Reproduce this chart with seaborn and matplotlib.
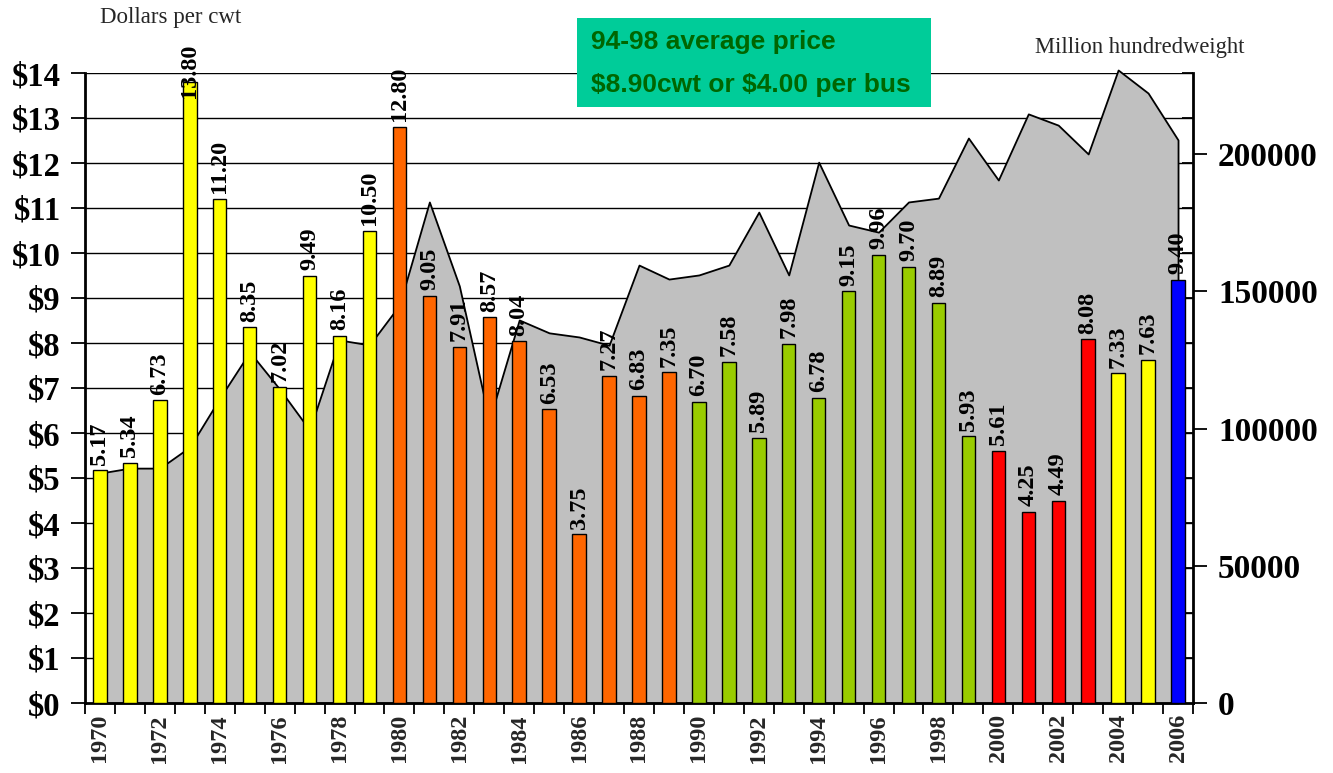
import matplotlib
matplotlib.use('Agg')
import matplotlib.pyplot as plt
from matplotlib.patches import Rectangle
import seaborn as sns
import numpy as np
import pandas as pd

# ---------------- data ----------------
years = list(range(1970, 2007))
prices = [5.17, 5.34, 6.73, 13.80, 11.20, 8.35, 7.02, 9.49, 8.16, 10.50,
          12.80, 9.05, 7.91, 8.57, 8.04, 6.53, 3.75, 7.27, 6.83, 7.35,
          6.70, 7.58, 5.89, 7.98, 6.78, 9.15, 9.96, 9.70, 8.89, 5.93,
          5.61, 4.25, 4.49, 8.08, 7.33, 7.63, 9.40]
production = [83800, 85600, 85600, 93300, 111100, 127900, 114400, 99500, 132300, 130500,
              145000, 182600, 152000, 103000, 139600, 134900, 133400, 130400, 159600, 154500,
              156000, 159600, 178900, 156000, 197100, 174200, 171600, 182600, 184000, 205900,
              190600, 214700, 210600, 200100, 230700, 222300, 205200]
bar_colors = (['#FFFF00'] * 10 + ['#FF6600'] * 10 + ['#99CC00'] * 10 +
              ['#FF0000'] * 4 + ['#FFFF00'] * 2 + ['#0000FF'])
dollar_ticks = list(range(0, 15))
dollar_labels = ['\\$%d' % v for v in dollar_ticks]
prod_ticks = [0, 50000, 100000, 150000, 200000]
left_title = 'Dollars per cwt'
right_title = 'Million hundredweight'
box_lines = ['94-98 average price', '\\$8.90cwt or \\$4.00 per bus']

# ---------------- style ----------------
sns.set_theme(style='white')
plt.rcParams['font.family'] = ['Liberation Serif', 'DejaVu Serif']

W, H = 1333, 773
fig = plt.figure(figsize=(W / 100, H / 100), dpi=100)
fig.patch.set_facecolor('white')
ax = fig.add_axes([85 / W, (H - 703) / H, (1193 - 85) / W, (703 - 73) / H])
ax2 = ax.twinx()
ax.set_zorder(2)
ax.patch.set_visible(False)
ax2.set_zorder(1)
ax2.patch.set_visible(True)
ax2.patch.set_facecolor('white')

ymax1 = 14
ymax2 = 229600

# area (secondary axis)
x = np.arange(len(years))
ax2.fill_between(x, production, 0, facecolor='#C0C0C0', edgecolor='black',
                 linewidth=1.3, zorder=2, clip_on=False)
ax2.set_ylim(0, ymax2)
ax2.set_yticks(prod_ticks)
ax2.set_yticklabels([str(v) for v in prod_ticks], fontsize=24, fontweight='bold')
ax2.set_yticks([v * ymax2 / ymax1 for v in dollar_ticks], minor=True)
ax2.tick_params(axis='y', which='major', direction='out', length=10, width=1.3,
                pad=8, colors='black', right=True)
ax2.tick_params(axis='y', which='minor', direction='in', length=8, width=1.3,
                colors='black', right=True)
ax2.grid(which='minor', axis='y', color='black', linewidth=1.0)
ax2.grid(which='major', visible=False)
ax2.set_axisbelow(True)
for s in ['left', 'top', 'bottom']:
    ax2.spines[s].set_visible(False)
ax2.spines['right'].set_linewidth(2)
ax2.spines['right'].set_color('black')

# bars (primary axis)
df = pd.DataFrame({'year': [str(y) for y in years], 'price': prices})
sns.barplot(data=df, x='year', y='price', hue='year', palette=bar_colors,
            legend=False, width=0.45, saturation=1, edgecolor='black',
            linewidth=1.0, ax=ax, zorder=3)
for cont in ax.containers:
    anns = ax.bar_label(cont, fmt='%.2f', rotation=90, padding=4, fontsize=17.5,
                        fontweight='bold', color='black')
    for bar, ann in zip(cont, anns):
        # labels that would run off the chart are pushed down onto the bar
        if bar.get_height() > 13.5:
            ann.xyann = (0, -11.5)

ax.set_ylim(0, ymax1)
ax.set_xlim(-0.5, len(years) - 0.5)
ax.set_yticks(dollar_ticks)
ax.set_yticklabels(dollar_labels, fontsize=23.5, fontweight='bold')
ax.tick_params(axis='y', which='major', direction='out', length=10, width=1.3,
               pad=7.5, colors='black', left=True, right=False)
ax.set_xticks(np.arange(-0.5, len(years), 1.0))
ax.set_xticklabels([])
ax.set_xticks(x[::2], minor=True)
ax.set_xticklabels([str(y) for y in years[::2]], minor=True, rotation=90,
                   fontsize=17.5, fontweight='bold')
ax.tick_params(axis='x', which='major', direction='out', length=8, width=1.3,
               colors='black', bottom=True)
ax.tick_params(axis='x', which='minor', length=0, pad=8, bottom=True)
ax.set_xlabel('')
ax.set_ylabel('')
ax.grid(False)
for s in ['top', 'right']:
    ax.spines[s].set_visible(False)
for s in ['left', 'bottom']:
    ax.spines[s].set_linewidth(2)
    ax.spines[s].set_color('black')

# titles
fig.text(100 / W, 1 - 18 / H, left_title, fontsize=16.5, va='center', ha='left')
fig.text(1035 / W, 1 - 48 / H, right_title, fontsize=16.3, va='center', ha='left')

# green annotation box
fig.add_artist(Rectangle((577 / W, 1 - 107 / H), (931 - 577) / W, (107 - 18) / H,
                         transform=fig.transFigure, facecolor='#00CC99',
                         edgecolor='none', zorder=5))
for yy, line in zip([42, 85], box_lines):
    fig.text(591 / W, 1 - yy / H, line, fontsize=19, fontweight='bold',
             family=['Liberation Sans', 'DejaVu Sans'], color='#006600',
             va='center', ha='left', zorder=6)

fig.savefig('out.png', dpi=100)
